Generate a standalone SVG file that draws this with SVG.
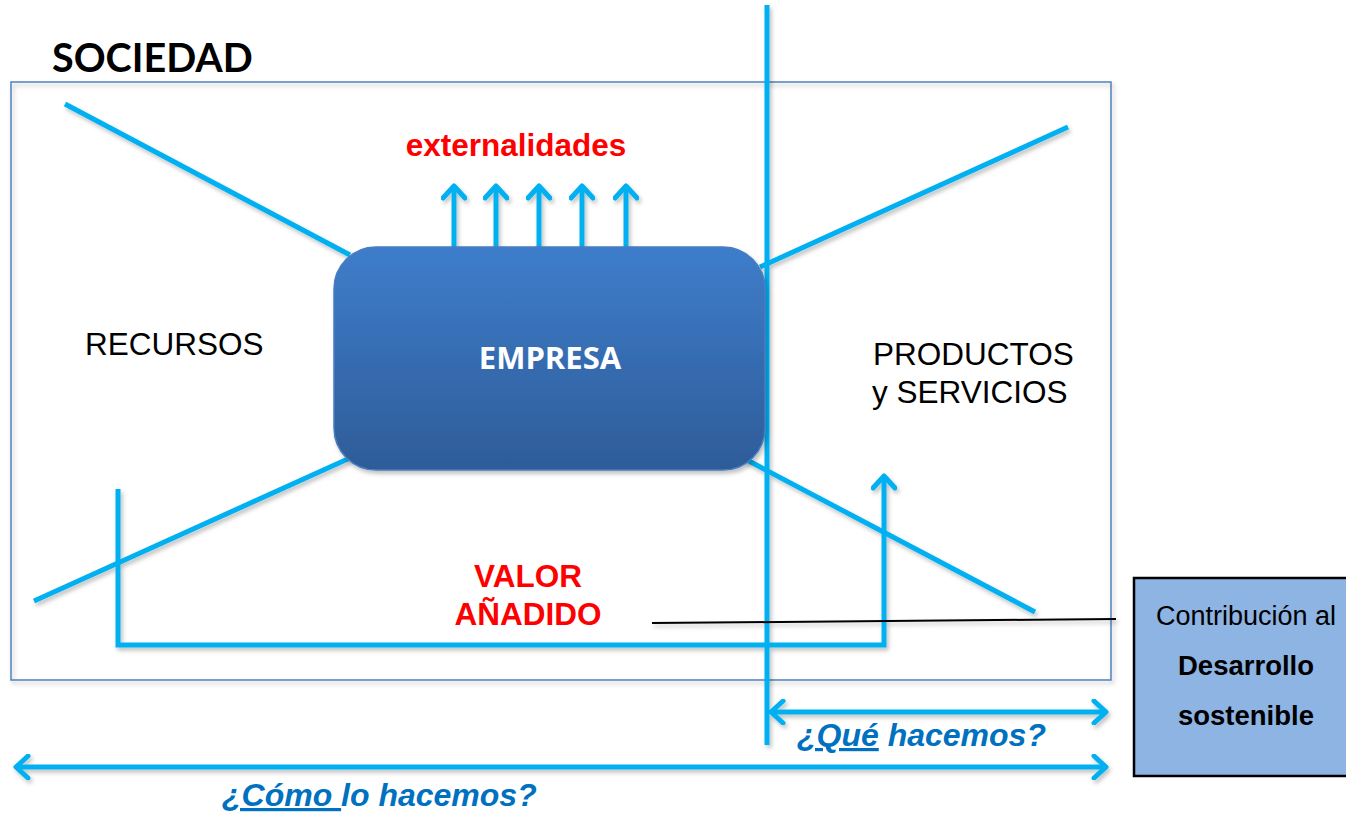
<svg xmlns="http://www.w3.org/2000/svg" width="1346" height="815" viewBox="0 0 1346 815">
<style>
.ln{stroke:#00b0f0;stroke-width:5;fill:none;stroke-linecap:butt}
.t{font-family:"Liberation Sans",Arial,sans-serif}
.red{fill:#ff0000;font-weight:bold;font-size:31.5px}
.q{fill:#0070c0;font-weight:bold;font-style:italic;font-size:32px}
</style>
<defs>
<linearGradient id="g" x1="0" y1="0" x2="0" y2="1">
<stop offset="0" stop-color="#3e7dcb"/>
<stop offset="1" stop-color="#2e5c98"/>
</linearGradient>
<filter id="sh" x="-10%" y="-10%" width="120%" height="130%">
<feDropShadow dx="2" dy="3" stdDeviation="2" flood-color="#000" flood-opacity="0.25"/>
</filter>
<marker id="ah2" viewBox="0 0 26 26" refX="22" refY="13" markerWidth="26" markerHeight="26" markerUnits="userSpaceOnUse" orient="auto-start-reverse">
<path d="M10,2 L22,13 L10,24" fill="none" stroke="#00b0f0" stroke-width="5" stroke-linecap="round" stroke-linejoin="round"/>
</marker>
</defs>
<rect width="1346" height="815" fill="#ffffff"/>
<g id="sociedad">
<rect x="11" y="82" width="1100" height="598" fill="none" stroke="#4f81bd" stroke-width="1.5" filter="url(#sh)"/>
<text x="52" y="72" font-family="Lato,'Open Sans',sans-serif" font-weight="bold" font-size="39.5" fill="#000">SOCIEDAD</text>
</g>
<g id="connectors" filter="url(#sh)">
<line class="ln" x1="65" y1="104" x2="350" y2="255"/>
<line class="ln" x1="760" y1="267" x2="1068" y2="127"/>
<line class="ln" x1="34" y1="601" x2="350" y2="458"/>
<line class="ln" x1="745" y1="459" x2="1035" y2="612"/>
<line class="ln" x1="767" y1="5" x2="767" y2="745"/>
<path class="ln" d="M118,489 V645 H884 V476" marker-end="url(#ah2)"/>
<line class="ln" x1="454" y1="247" x2="454" y2="186" marker-end="url(#ah2)"/>
<line class="ln" x1="496" y1="247" x2="496" y2="186" marker-end="url(#ah2)"/>
<line class="ln" x1="539" y1="247" x2="539" y2="186" marker-end="url(#ah2)"/>
<line class="ln" x1="582" y1="247" x2="582" y2="186" marker-end="url(#ah2)"/>
<line class="ln" x1="626" y1="247" x2="626" y2="186" marker-end="url(#ah2)"/>
<line class="ln" x1="771" y1="712" x2="1106" y2="712" marker-start="url(#ah2)" marker-end="url(#ah2)"/>
<line class="ln" x1="16" y1="767" x2="1106" y2="767" marker-start="url(#ah2)" marker-end="url(#ah2)"/>
<line x1="652" y1="623" x2="1116" y2="619" stroke="#000" stroke-width="2"/>
</g>
<g id="empresa">
<rect x="334" y="247" width="431" height="223" rx="42" ry="42" fill="url(#g)" stroke="#4a7cc0" stroke-width="1.5" filter="url(#sh)"/>
<text x="550" y="369" text-anchor="middle" font-family="'Open Sans',Lato,sans-serif" font-weight="bold" font-size="31" fill="#fff">EMPRESA</text>
</g>
<g id="externalidades">
<text class="t red" x="516" y="156" text-anchor="middle">externalidades</text>
</g>
<g id="recursos">
<text class="t" x="85" y="355" font-size="31.5" fill="#000">RECURSOS</text>
</g>
<g id="productos">
<text class="t" x="873" y="365" font-size="31.5" fill="#000">PRODUCTOS</text>
<text class="t" x="872" y="403" font-size="31.5" fill="#000">y SERVICIOS</text>
</g>
<g id="valor">
<text class="t red" x="528" y="587" text-anchor="middle">VALOR</text>
<text class="t red" x="528" y="625" text-anchor="middle">AÑADIDO</text>
</g>
<g id="desarrollo">
<rect x="1134" y="578" width="214" height="198" fill="#8db4e3" stroke="#000" stroke-width="2.5"/>
<text class="t" x="1246" y="625" text-anchor="middle" font-size="27" fill="#000">Contribución al</text>
<text class="t" x="1246" y="675" text-anchor="middle" font-size="27.5" font-weight="bold" fill="#000">Desarrollo</text>
<text class="t" x="1246" y="725" text-anchor="middle" font-size="27.5" font-weight="bold" fill="#000">sostenible</text>
</g>
<g id="que">
<text class="t q" x="797" y="746"><tspan text-decoration="underline">¿Qué</tspan> hacemos?</text>
</g>
<g id="como">
<text class="t q" x="222" y="806"><tspan text-decoration="underline">¿Cómo </tspan>lo hacemos?</text>
</g>
</svg>
